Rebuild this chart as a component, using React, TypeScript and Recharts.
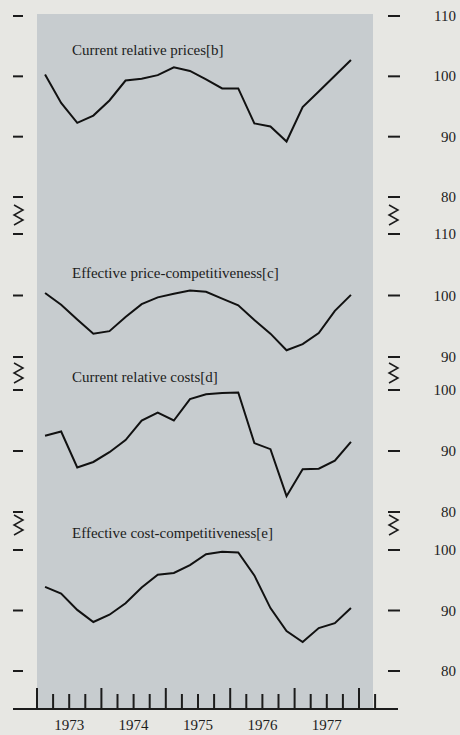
import { LineChart, Line, XAxis, YAxis } from 'recharts';

// quarterly observations, 1973 Q1 .. 1977 Q4
const quarters = [
  '1973Q1', '1973Q2', '1973Q3', '1973Q4',
  '1974Q1', '1974Q2', '1974Q3', '1974Q4',
  '1975Q1', '1975Q2', '1975Q3', '1975Q4',
  '1976Q1', '1976Q2', '1976Q3', '1976Q4',
  '1977Q1', '1977Q2', '1977Q3', '1977Q4',
];
const relPrices = [100.3, 95.6, 92.3, 93.5, 96.0, 99.3, 99.6, 100.2, 101.5, 100.9, 99.5, 98.0, 98.0, 92.2, 91.7, 89.2, 94.9, 97.5, 100.1, 102.7];
const effPrice = [100.4, 98.5, 96.1, 93.8, 94.2, 96.5, 98.6, 99.7, 100.3, 100.8, 100.6, 99.5, 98.4, 96.0, 93.8, 91.1, 92.1, 93.9, 97.5, 100.1];
const relCosts = [92.5, 93.2, 87.3, 88.2, 89.8, 91.8, 95.0, 96.3, 95.0, 98.5, 99.3, 99.5, 99.6, 91.3, 90.3, 82.6, 87.0, 87.1, 88.4, 91.5];
const effCost = [93.9, 92.8, 90.1, 88.1, 89.3, 91.2, 93.8, 95.9, 96.2, 97.5, 99.3, 99.7, 99.6, 95.8, 90.4, 86.6, 84.8, 87.1, 87.9, 90.4];
const years = [1973, 1974, 1975, 1976, 1977];

const data = quarters.map((name, i) => ({
  name,
  q: i + 0.5,
  relPrices: relPrices[i],
  effPrice: effPrice[i],
  relCosts: relCosts[i],
  effCost: effCost[i],
}));

// x in quarters since 1973 Q1; 1973.0 sits at x=37px, one quarter = 16.1px
const X0 = 37;
const QW = 16.1;
const xDom = (l: number, r: number) => [(l - X0) / QW, (r - X0) / QW];
const boundaries = Array.from({ length: 22 }, (_, i) => i);

const panels = [
  { key: 'relPrices', title: 'Current relative prices[b]', domain: [80, 110], ticks: [80, 90, 100, 110], top: 16, height: 181, titleY: 50 },
  { key: 'effPrice', title: 'Effective price-competitiveness[c]', domain: [90, 110], ticks: [90, 100, 110], top: 234, height: 123, titleY: 273 },
  { key: 'relCosts', title: 'Current relative costs[d]', domain: [80, 100], ticks: [80, 90, 100], top: 390, height: 122, titleY: 377 },
  { key: 'effCost', title: 'Effective cost-competitiveness[e]', domain: [80, 100], ticks: [80, 90, 100], top: 550, height: 121, titleY: 533 },
];
const breaks = [215, 373, 525];
const PAD = 14; // room above/below each panel so edge labels are not clipped

const serif = '"Liberation Serif", "Times New Roman", serif';
const ink = '#1c1c1c';

const RightTick = ({ x, y, payload }: any) => (
  <text x={x} y={y} dy={5} textAnchor="end" fontFamily={serif} fontSize={15} fill={ink}>
    {payload.value}
  </text>
);

const NoLabel = () => <g />;

const QuarterTick = ({ x, y, payload }: any) => {
  const q = payload.value;
  const yi = (q - 2) / 4;
  return (
    <g>
      <line x1={x} x2={x} y1={y} y2={y - (q % 4 === 0 ? 21 : 15)} stroke={ink} strokeWidth={2} />
      {q % 4 === 2 && yi < years.length && (
        <text x={x} y={y + 21} textAnchor="middle" fontFamily={serif} fontSize={15} fill={ink}>
          {years[yi]}
        </text>
      )}
    </g>
  );
};

const zig = (x: number, y: number) =>
  `M${x},${y - 10} L${x + 9},${y - 5} L${x},${y} L${x + 9},${y + 5} L${x},${y + 10}`;

export default function App() {
  return (
    <div style={{ position: 'absolute', left: 0, top: 0, width: 460, height: 735, background: '#e7e7e3', overflow: 'hidden' }}>
      <div style={{ position: 'absolute', left: 37, top: 14, width: 336, height: 695, background: '#c7cccf' }} />

      {panels.map((p) => (
        <div key={p.key} style={{ position: 'absolute', left: 0, top: p.top - PAD }}>
          <LineChart width={460} height={p.height + 2 * PAD} data={data} margin={{ top: PAD, right: 0, bottom: PAD, left: 0 }}>
            <XAxis dataKey="q" type="number" domain={xDom(23, 388)} allowDataOverflow hide />
            <YAxis yAxisId="l" orientation="left" width={23} domain={p.domain} ticks={p.ticks} interval={0}
              allowDataOverflow axisLine={false} tick={<NoLabel />} tickSize={10} tickLine={{ stroke: ink, strokeWidth: 2 }} />
            <YAxis yAxisId="r" orientation="right" width={72} domain={p.domain} ticks={p.ticks} interval={0}
              allowDataOverflow axisLine={false} tickSize={12} tickMargin={56} tick={<RightTick />}
              tickLine={{ stroke: ink, strokeWidth: 2 }} />
            <Line yAxisId="r" type="linear" dataKey={p.key} stroke="#111" strokeWidth={2} dot={false} isAnimationActive={false} />
          </LineChart>
        </div>
      ))}

      {panels.map((p) => (
        <div key={p.title} style={{ position: 'absolute', left: 72, top: p.titleY - 9, lineHeight: '18px', fontFamily: serif, fontSize: 15, color: ink, whiteSpace: 'nowrap' }}>
          {p.title}
        </div>
      ))}

      <svg width={460} height={735} style={{ position: 'absolute', left: 0, top: 0 }}>
        {breaks.map((y) => (
          <g key={y} fill="none" stroke={ink} strokeWidth={1.5}>
            <path d={zig(14, y)} />
            <path d={zig(389, y)} />
          </g>
        ))}
      </svg>

      <div style={{ position: 'absolute', left: 0, top: 680 }}>
        <LineChart width={460} height={55} data={data} margin={{ top: 0, right: 62, bottom: 0, left: 13 }}>
          <XAxis dataKey="q" type="number" domain={xDom(13, 398)} allowDataOverflow ticks={boundaries} interval={0}
            height={26} tickSize={0} tickMargin={0} tickLine={false} tick={<QuarterTick />}
            axisLine={{ stroke: ink, strokeWidth: 2 }} />
          <YAxis hide domain={[80, 110]} />
        </LineChart>
      </div>
    </div>
  );
}
